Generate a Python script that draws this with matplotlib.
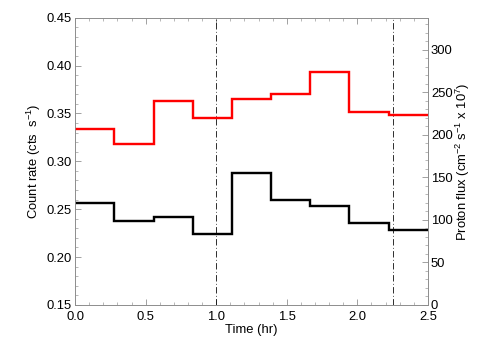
import matplotlib
matplotlib.use("Agg")
import matplotlib.pyplot as plt
from matplotlib.ticker import MultipleLocator

plt.rcParams["font.family"] = ["Liberation Sans", "DejaVu Sans"]
plt.rcParams["font.size"] = 13
plt.rcParams["mathtext.default"] = "regular"

# 1000 s bins, in hours
edges = [0.0, 0.2778, 0.5556, 0.8333, 1.1111, 1.3889, 1.6667, 1.9444, 2.2222, 2.5]
count_rate = [0.2566, 0.2381, 0.2420, 0.2239, 0.2882, 0.2594, 0.2534, 0.2354, 0.2284]
proton_flux = [207.1, 189.1, 240.0, 220.4, 242.7, 248.2, 274.5, 227.1, 223.9]
marker_times = [1.0, 2.25]

fig = plt.figure(figsize=(7, 5), dpi=72)
ax = fig.add_axes([0.149, 0.153, 0.700, 0.798])
ax2 = ax.twinx()

ax.stairs(count_rate, edges, color="black", lw=2.4, baseline=None)
ax2.stairs(proton_flux, edges, color="red", lw=2.4, baseline=None)
for t in marker_times:
    ax.axvline(t, color="black", lw=0.8, ls=(0, (8, 3, 1, 3)))

ax.set_xlim(0, 2.5)
ax.set_ylim(0.15, 0.45)
ax2.set_ylim(0, 338)

ax.xaxis.set_major_locator(MultipleLocator(0.5))
ax.xaxis.set_minor_locator(MultipleLocator(0.1))
ax.yaxis.set_major_locator(MultipleLocator(0.05))
ax.yaxis.set_minor_locator(MultipleLocator(0.01))
ax2.yaxis.set_major_locator(MultipleLocator(50))
ax2.yaxis.set_minor_locator(MultipleLocator(10))
ax.xaxis.set_major_formatter(plt.FormatStrFormatter("%.1f"))
ax.yaxis.set_major_formatter(plt.FormatStrFormatter("%.2f"))

for a in (ax, ax2):
    for s in a.spines.values():
        s.set_color("0.55")
        s.set_linewidth(0.8)
ax.tick_params(which="both", direction="in", top=True, colors="0.55", labelcolor="black")
ax.tick_params(which="major", length=6)
ax.tick_params(axis="x", which="major", pad=6)
ax.tick_params(axis="y", which="major", pad=3)
ax.tick_params(which="minor", length=3)
ax2.tick_params(which="both", direction="in", colors="0.55", labelcolor="black")
ax2.tick_params(which="major", length=6, pad=3)
ax2.tick_params(which="minor", length=3)

ax.set_xlabel("Time (hr)", labelpad=1)
ax.set_ylabel("Count rate (cts  s$^{-1}$)", labelpad=4)
ax2.set_ylabel("Proton flux (cm$^{-2}$ s$^{-1}$ x 10$^{7}$)", labelpad=1)

fig.savefig("out.png", dpi=72)
